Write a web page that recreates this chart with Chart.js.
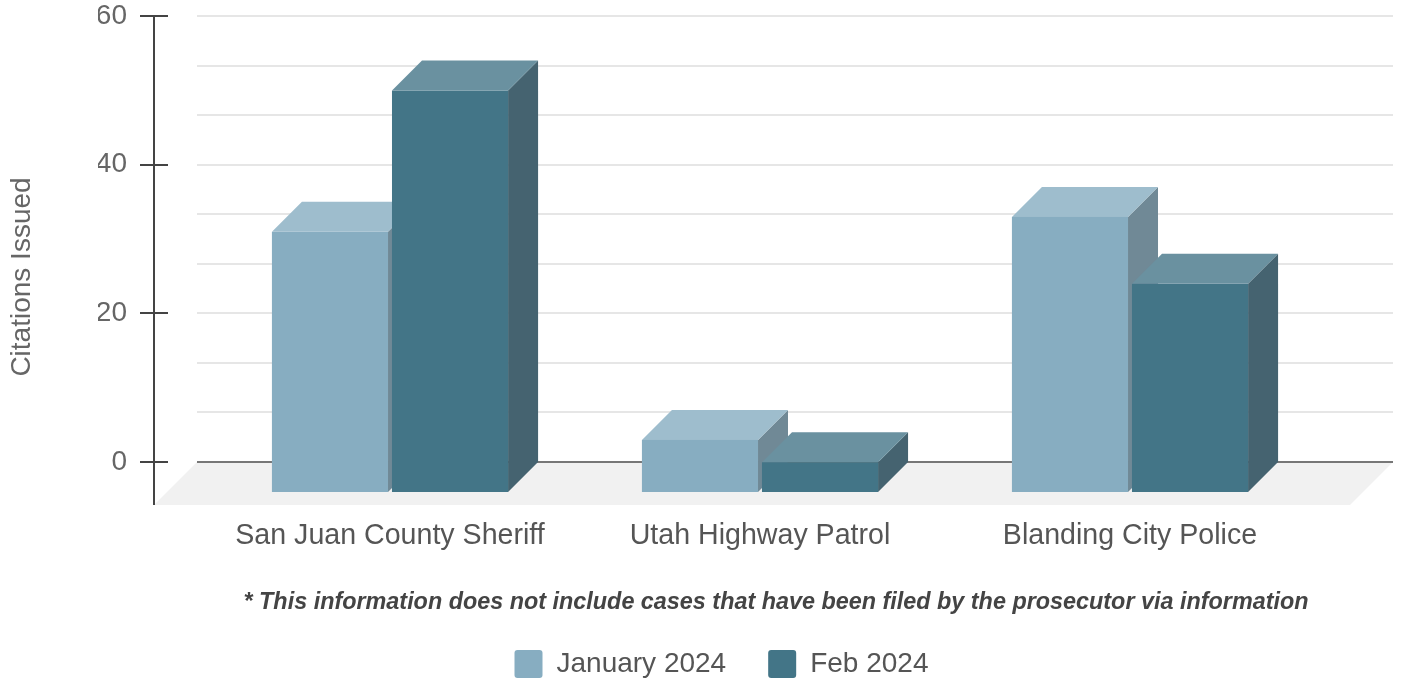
<!DOCTYPE html>
<html>
<head>
<meta charset="utf-8">
<script src="https://cdn.jsdelivr.net/npm/chart.js@4/dist/chart.umd.min.js"></script>
<style>
  html, body { margin: 0; padding: 0; background: #fff; }
  #wrap { width: 1402px; height: 681px; position: relative; }
</style>
</head>
<body>
<div id="wrap"><canvas id="chart"></canvas></div>
<script>
// ---- data ----
const agencies = ['San Juan County Sheriff', 'Utah Highway Patrol', 'Blanding City Police'];
const seriesNames = ['January 2024', 'Feb 2024'];
const january = [35, 7, 37];
const february = [54, 4, 28];
const yTicks = [0, 20, 40, 60];
const footnote = '* This information does not include cases that have been filed by the prosecutor via information';

// face colours: front / top / side
const frontColors = ['#87adc1', '#437587'];
const topColors = ['#9ebdcd', '#6a91a0'];
const sideColors = ['#708996', '#456370'];

const DEPTH = 30;      // bar depth offset (px)
const FLOOR = 43;      // floor depth offset (px)
const FONT = '"Liberation Sans", Arial, sans-serif';

// ---- 3d plugin ----
const threeD = {
  id: 'threeD',
  beforeDatasetsDraw(chart) {
    const ctx = chart.ctx;
    const area = chart.chartArea;
    const y = chart.scales.y;
    const left = area.left - 38, right = area.right + 48;

    ctx.save();
    // floor
    ctx.fillStyle = '#f1f1f1';
    ctx.beginPath();
    ctx.moveTo(left, area.bottom);
    ctx.lineTo(right, area.bottom);
    ctx.lineTo(right - FLOOR, area.bottom + FLOOR);
    ctx.lineTo(left - FLOOR, area.bottom + FLOOR);
    ctx.closePath();
    ctx.fill();

    // grid lines (minor every 20/3)
    ctx.lineWidth = 2;
    for (let i = 1; i <= 9; i++) {
      const py = Math.round(y.getPixelForValue(i * 20 / 3));
      ctx.strokeStyle = '#e6e6e6';
      ctx.beginPath();
      ctx.moveTo(left, py);
      ctx.lineTo(right, py);
      ctx.stroke();
    }
    const zero = Math.round(y.getPixelForValue(0));
    ctx.strokeStyle = '#777';
    ctx.beginPath();
    ctx.moveTo(left, zero);
    ctx.lineTo(right, zero);
    ctx.stroke();

    // y axis line + ticks
    const ax = left - FLOOR;
    ctx.strokeStyle = '#444';
    ctx.beginPath();
    ctx.moveTo(ax, y.getPixelForValue(60));
    ctx.lineTo(ax, area.bottom + FLOOR);
    ctx.stroke();
    yTicks.forEach(v => {
      const py = Math.round(y.getPixelForValue(v));
      ctx.beginPath();
      ctx.moveTo(ax - 14, py);
      ctx.lineTo(ax + 14, py);
      ctx.stroke();
    });

    // bars as prisms
    const n = chart.data.labels.length;
    for (let i = 0; i < n; i++) {
      chart.data.datasets.forEach((ds, d) => {
        const bar = chart.getDatasetMeta(d).data[i];
        const xl = bar.x - bar.width / 2, xr = bar.x + bar.width / 2;
        const top = bar.y, base = bar.base;
        // side
        ctx.fillStyle = sideColors[d];
        ctx.beginPath();
        ctx.moveTo(xr - DEPTH, top + DEPTH);
        ctx.lineTo(xr, top);
        ctx.lineTo(xr, base);
        ctx.lineTo(xr - DEPTH, base + DEPTH);
        ctx.closePath();
        ctx.fill();
        // top
        ctx.fillStyle = topColors[d];
        ctx.beginPath();
        ctx.moveTo(xl - DEPTH, top + DEPTH);
        ctx.lineTo(xr - DEPTH, top + DEPTH);
        ctx.lineTo(xr, top);
        ctx.lineTo(xl, top);
        ctx.closePath();
        ctx.fill();
        // front
        ctx.fillStyle = frontColors[d];
        ctx.fillRect(xl - DEPTH, top + DEPTH, xr - xl, base - top);
      });
    }
    ctx.restore();
    return false;
  },
  afterDraw(chart) {
    const ctx = chart.ctx;
    ctx.save();
    // axis title
    ctx.translate(22, 277);
    ctx.rotate(-Math.PI / 2);
    ctx.font = '28px ' + FONT;
    ctx.fillStyle = '#666';
    ctx.textAlign = 'center';
    ctx.textBaseline = 'middle';
    ctx.fillText('Citations Issued', 0, 0);
    ctx.restore();

    ctx.save();
    ctx.font = 'italic bold 23.5px ' + FONT;
    ctx.fillStyle = '#444';
    ctx.textAlign = 'center';
    ctx.textBaseline = 'alphabetic';
    ctx.fillText(footnote, 776, 609, 1065);
    ctx.restore();
  }
};

new Chart(document.getElementById('chart'), {
  type: 'bar',
  data: {
    labels: agencies,
    datasets: [
      { label: seriesNames[0], data: january, backgroundColor: frontColors[0] },
      { label: seriesNames[1], data: february, backgroundColor: frontColors[1] }
    ]
  },
  options: {
    responsive: true,
    maintainAspectRatio: false,
    animation: false,
    categoryPercentage: 0.649,
    barPercentage: 0.967,
    layout: { padding: { top: 16, left: 98, right: 57, bottom: 0 } },
    scales: {
      x: {
        grid: { display: false },
        border: { display: false },
        afterFit(scale) { scale.height = 146; },
        ticks: {
          padding: 52,
          labelOffset: -DEPTH,
          color: '#555',
          font: { family: FONT, size: 28.6, lineHeight: 1 },
          maxRotation: 0
        }
      },
      y: {
        min: 0,
        max: 60,
        grid: { display: false, drawTicks: true, tickLength: 108 },
        border: { display: false },
        afterFit(scale) { scale.width = 137; },
        ticks: {
          stepSize: 20,
          padding: 0,
          color: '#666',
          font: { family: FONT, size: 28, lineHeight: 1 }
        }
      }
    },
    plugins: {
      legend: {
        position: 'bottom',
        maxHeight: 73,
        labels: {
          boxWidth: 28,
          boxHeight: 28,
          padding: 42,
          useBorderRadius: true,
          borderRadius: 3,
          color: '#555',
          font: { family: FONT, size: 28 }
        }
      },
      tooltip: { enabled: false }
    }
  },
  plugins: [threeD]
});
</script>
</body>
</html>
